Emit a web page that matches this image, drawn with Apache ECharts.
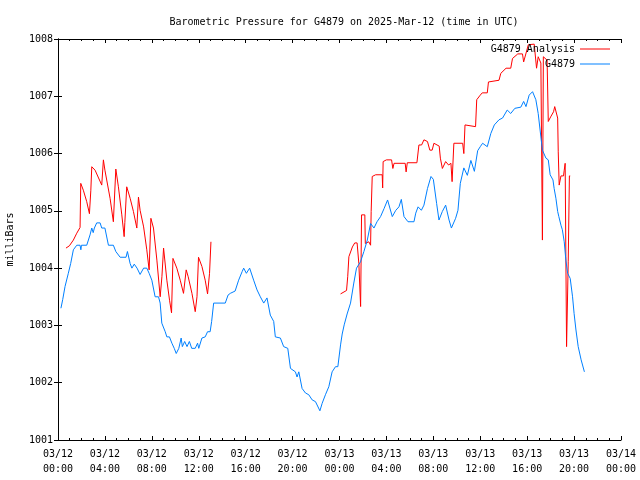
<!DOCTYPE html>
<html>
<head>
<meta charset="utf-8">
<script src="https://cdn.jsdelivr.net/npm/echarts@6/dist/echarts.min.js"></script>
<style>html,body{margin:0;padding:0;background:#fff}#c{width:640px;height:480px}</style>
</head>
<body>
<div id="c"></div>
<script>
// time in hours since 2025-03-12 00:00 UTC
const blueT = [0.25,0.4,0.6,0.88,1.08,1.31,1.6,1.88,1.95,2.0,2.45,2.73,2.88,3.0,3.1,3.3,3.59,3.73,4.0,4.3,4.72,4.93,5.3,5.8,5.92,6.15,6.3,6.5,6.74,7.0,7.3,7.57,7.77,8.0,8.28,8.57,8.71,8.85,9.14,9.28,9.5,9.71,9.91,10.08,10.3,10.5,10.6,10.8,11.0,11.2,11.4,11.7,11.9,12.0,12.27,12.55,12.75,12.97,13.1,13.27,14.26,14.5,14.69,15.1,15.4,15.7,15.83,16.06,16.34,16.68,16.97,17.25,17.54,17.82,18.1,18.39,18.53,18.96,19.24,19.59,19.82,20.24,20.38,20.53,20.81,21.1,21.38,21.67,21.95,22.33,22.52,22.8,23.09,23.37,23.66,23.86,24.09,24.23,24.4,24.65,24.94,25.22,25.45,25.79,26.08,26.37,26.65,26.94,27.2,27.5,27.8,28.1,28.5,28.8,29.07,29.27,29.5,29.84,30.35,30.5,30.7,30.98,31.2,31.5,31.8,32.0,32.28,32.48,32.77,33.05,33.34,33.54,33.9,34.1,34.3,34.6,34.9,35.2,35.5,35.78,36.0,36.2,36.6,36.9,37.2,37.6,37.9,38.3,38.6,38.95,39.46,39.7,39.9,40.17,40.46,40.74,40.94,41.17,41.3,41.6,41.8,41.96,42.2,42.3,42.45,42.6,42.7,42.88,43.0,43.16,43.3,43.45,43.67,43.87,44.0,44.16,44.35,44.6,44.88];
const blueV = [1003.30,1003.45,1003.68,1003.91,1004.08,1004.32,1004.40,1004.40,1004.32,1004.40,1004.40,1004.58,1004.70,1004.62,1004.70,1004.79,1004.79,1004.70,1004.70,1004.40,1004.40,1004.29,1004.19,1004.19,1004.29,1004.08,1004.00,1004.07,1004.00,1003.89,1004.00,1004.00,1003.91,1003.79,1003.50,1003.50,1003.39,1003.04,1002.89,1002.80,1002.80,1002.69,1002.60,1002.51,1002.60,1002.78,1002.63,1002.72,1002.63,1002.72,1002.60,1002.60,1002.69,1002.60,1002.78,1002.80,1002.89,1002.89,1003.07,1003.39,1003.39,1003.53,1003.56,1003.60,1003.79,1003.94,1004.00,1003.91,1004.00,1003.79,1003.62,1003.50,1003.39,1003.48,1003.18,1003.07,1002.80,1002.78,1002.63,1002.60,1002.25,1002.19,1002.10,1002.19,1001.90,1001.82,1001.79,1001.70,1001.67,1001.51,1001.64,1001.79,1001.93,1002.19,1002.28,1002.28,1002.66,1002.85,1003.01,1003.20,1003.39,1003.74,1004.00,1004.11,1004.29,1004.49,1004.78,1004.70,1004.81,1004.90,1005.04,1005.19,1004.90,1005.01,1005.07,1005.20,1004.90,1004.81,1004.81,1004.96,1005.07,1005.01,1005.10,1005.39,1005.60,1005.55,1005.13,1004.84,1004.99,1005.10,1004.84,1004.70,1004.87,1005.01,1005.48,1005.75,1005.62,1005.88,1005.69,1006.05,1006.12,1006.18,1006.12,1006.35,1006.50,1006.59,1006.62,1006.76,1006.70,1006.79,1006.81,1006.91,1006.82,1007.02,1007.08,1006.94,1006.70,1006.29,1006.06,1005.92,1005.89,1005.63,1005.54,1005.39,1005.22,1004.99,1004.90,1004.75,1004.67,1004.46,1004.14,1003.91,1003.82,1003.50,1003.21,1002.92,1002.63,1002.40,1002.19];

const redT = [0.68,0.97,1.31,1.6,1.88,1.94,2.16,2.45,2.68,2.8,2.88,3.16,3.73,3.87,4.0,4.44,4.72,4.85,4.93,5.15,5.44,5.64,5.7,5.86,6.15,6.43,6.72,6.86,7.0,7.3,7.57,7.77,7.92,8.14,8.43,8.71,8.86,9.0,9.28,9.51,9.68,9.8,10.13,10.42,10.7,10.85,10.93,11.1,11.42,11.7,11.85,11.98,12.27,12.55,12.75,12.92,13.04,
  18.0,
  24.09,24.6,24.7,24.8,25.1,25.3,25.5,25.65,25.8,25.88,26.16,26.2,26.5,26.65,26.7,26.79,27.08,27.64,27.68,27.72,28.0,28.44,28.55,28.65,29.6,29.68,29.78,30.6,30.77,31.0,31.2,31.5,31.7,31.9,32.05,32.5,32.6,32.77,32.9,33.05,33.3,33.5,33.6,33.75,34.5,34.6,34.7,35.6,35.7,36.0,36.17,36.6,36.7,37.6,37.75,38.2,38.6,38.75,39.2,39.6,39.7,40.1,40.6,40.8,40.94,41.17,41.3,41.38,41.7,41.8,42.0,42.25,42.35,42.5,42.6,42.65,42.73,42.88,43.1,43.16,43.24,43.3,43.36,43.45,43.5,43.6,43.67];
const redV = [1004.35,1004.39,1004.49,1004.61,1004.71,1005.48,1005.36,1005.16,1004.95,1005.36,1005.77,1005.71,1005.45,1005.89,1005.71,1005.22,1004.81,1004.81,1005.73,1005.42,1004.93,1004.55,1004.80,1005.42,1005.22,1004.99,1004.70,1005.24,1005.01,1004.72,1004.32,1003.97,1004.87,1004.70,1004.14,1003.50,1003.85,1004.35,1003.79,1003.44,1003.22,1004.17,1004.00,1003.79,1003.56,1003.56,1003.97,1003.85,1003.56,1003.24,1003.50,1004.19,1004.03,1003.79,1003.55,1003.91,1004.46,
  null,
  1003.55,1003.61,1003.85,1004.20,1004.37,1004.44,1004.44,1004.08,1003.33,1004.93,1004.93,1004.43,1004.46,1004.40,1004.99,1005.60,1005.63,1005.63,1005.40,1005.86,1005.89,1005.89,1005.74,1005.83,1005.83,1005.68,1005.84,1005.84,1006.15,1006.15,1006.24,1006.21,1006.06,1006.06,1006.18,1006.13,1005.92,1005.74,1005.77,1005.86,1005.80,1005.83,1005.51,1006.18,1006.18,1006.00,1006.50,1006.47,1006.94,1007.02,1007.06,1007.06,1007.25,1007.28,1007.40,1007.49,1007.49,1007.66,1007.74,1007.74,1007.60,1007.90,1007.91,1007.49,1007.69,1007.58,1004.49,1007.69,1007.63,1006.56,1006.64,1006.73,1006.82,1006.82,1006.62,1006.03,1005.45,1005.61,1005.61,1005.71,1005.83,1004.20,1002.63,1002.60,1004.11,1005.61,1005.61];

const titleText = 'Barometric Pressure for G4879 on 2025-Mar-12 (time in UTC)';
const yName = 'milliBars';
const seriesNames = ['G4879 Analysis', 'G4879'];

const FONT = 'DejaVu Sans Mono';
const pair = (ts, vs) => ts.map((t, i) => [t, vs[i] === null ? null : vs[i]]);
const pad = n => (n < 10 ? '0' : '') + n;
const xFmt = v => '03/' + (12 + Math.floor(v / 24)) + '\n' + pad(v % 24) + ':00';

const chart = echarts.init(document.getElementById('c'), null, {renderer: 'canvas'});
const axisLine = {show: true, lineStyle: {color: '#000', width: 1}};
chart.setOption({
  animation: false,
  backgroundColor: '#fff',
  title: {
    text: titleText, left: 339, top: 12, textAlign: 'center',
    textStyle: {fontFamily: FONT, fontSize: 10, fontWeight: 'normal', color: '#000'}
  },
  legend: {
    orient: 'vertical', right: 25, top: 39, align: 'right', itemGap: 5,
    itemWidth: 30, itemHeight: 1, icon: 'rect',
    textStyle: {fontFamily: FONT, fontSize: 10, color: '#000'},
    data: seriesNames
  },
  grid: {left: 58, right: 19, top: 39, bottom: 40, containLabel: false, outerBoundsMode: 'none'},
  xAxis: [{
    type: 'value', min: 0, max: 48, interval: 4,
    axisLine: axisLine,
    axisTick: {show: true, inside: true, length: 4, lineStyle: {color: '#000'}},
    minorTick: {show: true, splitNumber: 4, length: 2, lineStyle: {color: '#000'}},
    splitLine: {show: false},
    axisLabel: {formatter: xFmt, fontFamily: FONT, fontSize: 10, color: '#000', lineHeight: 15, margin: 7}
  }, {
    type: 'value', min: 0, max: 48, interval: 4, position: 'top',
    axisLine: axisLine,
    axisTick: {show: true, inside: true, length: 4, lineStyle: {color: '#000'}},
    minorTick: {show: true, splitNumber: 4, length: 2, lineStyle: {color: '#000'}},
    splitLine: {show: false}, axisLabel: {show: false}
  }],
  yAxis: [{
    type: 'value', min: 1001, max: 1008, interval: 1,
    name: yName, nameLocation: 'middle', nameGap: 43, nameRotate: 90,
    nameTextStyle: {fontFamily: FONT, fontSize: 10, color: '#000'},
    axisLine: axisLine,
    axisTick: {show: true, inside: true, length: 4, lineStyle: {color: '#000'}},
    splitLine: {show: false},
    axisLabel: {formatter: v => String(v), fontFamily: FONT, fontSize: 10, color: '#000', margin: 5}
  }, {
    type: 'value', min: 1001, max: 1008, interval: 1, position: 'right',
    axisLine: axisLine,
    axisTick: {show: true, inside: true, length: 4, lineStyle: {color: '#000'}},
    splitLine: {show: false}, axisLabel: {show: false}
  }],
  series: [{
    name: seriesNames[0], type: 'line', data: pair(redT, redV),
    showSymbol: false, symbol: 'none', connectNulls: false,
    lineStyle: {color: '#ff0000', width: 1}, itemStyle: {color: '#ff0000'}
  }, {
    name: seriesNames[1], type: 'line', data: pair(blueT, blueV),
    showSymbol: false, symbol: 'none',
    lineStyle: {color: '#0080ff', width: 1}, itemStyle: {color: '#0080ff'}
  }]
});
</script>
</body>
</html>
